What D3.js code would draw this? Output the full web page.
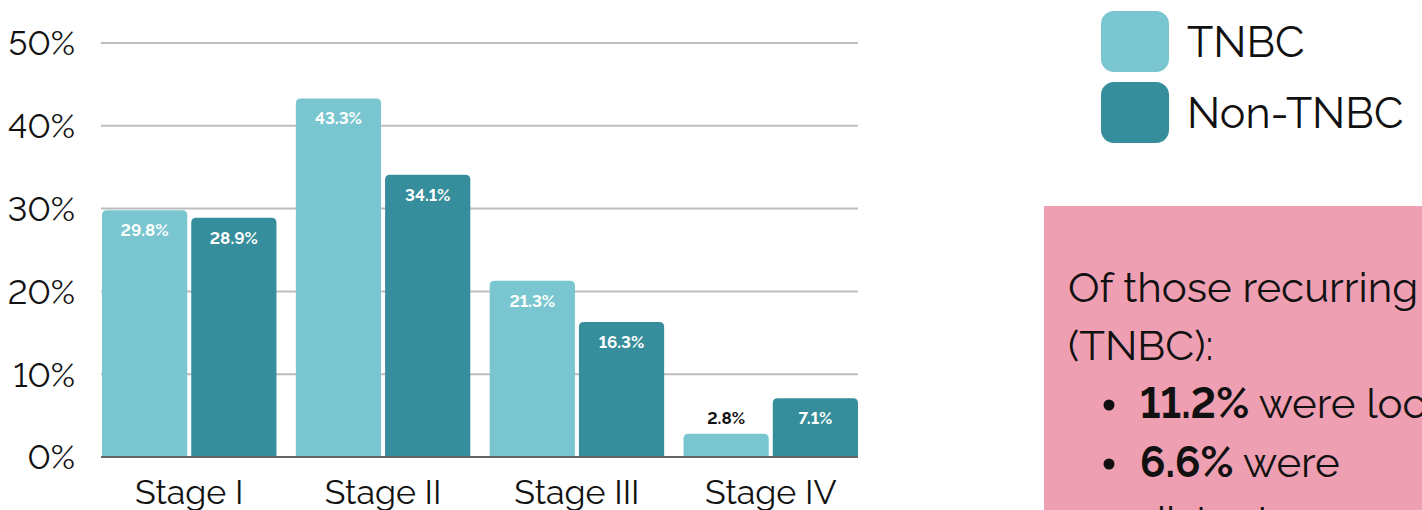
<!DOCTYPE html>
<html>
<head>
<meta charset="utf-8">
<script src="https://cdn.jsdelivr.net/npm/d3@7"></script>
<style>
  html, body { margin: 0; padding: 0; background: #fff; overflow: hidden; }
  svg { display: block; font-family: Raleway, Lato, "Open Sans", sans-serif; font-variant-numeric: lining-nums; }
</style>
</head>
<body>
<svg id="chart" width="1422" height="510"></svg>
<script>
// Stage distribution at diagnosis, by subtype
const stages = ["Stage I", "Stage II", "Stage III", "Stage IV"];
const seriesNames = ["TNBC", "Non-TNBC"];
const tnbcValues = [29.8, 43.3, 21.3, 2.8];
const nonTnbcValues = [28.9, 34.1, 16.3, 7.1];
const yTicks = [0, 10, 20, 30, 40, 50];
const colors = ["#79c6d1", "#368d9b"];

const svg = d3.select("#chart");

const x0 = d3.scaleBand().domain(stages).range([102, 858]).paddingInner(0.1).paddingOuter(0);
const x1 = d3.scaleBand().domain(seriesNames).range([0, x0.bandwidth()]).paddingInner(0.045);
const y = d3.scaleLinear().domain([0, 50]).range([457, 43]);

// gridlines
svg.append("g").selectAll("line").data(yTicks.filter(d => d > 0)).join("line")
  .attr("x1", 101).attr("x2", 858)
  .attr("y1", d => y(d)).attr("y2", d => y(d))
  .attr("stroke", "#bdbdbd").attr("stroke-width", 2);

// y axis labels
const yAxis = d3.axisLeft(y).tickValues(yTicks).tickFormat(d => d + "%").tickSize(0).tickPadding(0);
const yg = svg.append("g").attr("transform", "translate(75,0)").call(yAxis);
yg.select(".domain").remove();
yg.selectAll("text").attr("font-size", 34).attr("fill", "#111").attr("font-family", "Raleway, Lato, sans-serif")
  .attr("dy", "0.35em");

// bars with rounded top corners
const rows = stages.map((s, i) => ({ stage: s, vals: [tnbcValues[i], nonTnbcValues[i]] }));
const r = 5;
function topRounded(x, yTop, w, yBase) {
  const h = yBase - yTop;
  const rr = Math.min(r, h, w / 2);
  return `M${x},${yBase}V${yTop + rr}Q${x},${yTop} ${x + rr},${yTop}H${x + w - rr}Q${x + w},${yTop} ${x + w},${yTop + rr}V${yBase}Z`;
}
const groups = svg.append("g").selectAll("g").data(rows).join("g")
  .attr("transform", d => `translate(${x0(d.stage)},0)`);

groups.selectAll("path").data(d => d.vals.map((v, j) => ({ v, name: seriesNames[j], j }))).join("path")
  .attr("d", d => topRounded(x1(d.name), y(d.v), x1.bandwidth(), y(0)))
  .attr("fill", d => colors[d.j]);

// value labels: inside the bar, or above it when the bar is short
groups.selectAll("text").data(d => d.vals.map((v, j) => ({ v, name: seriesNames[j], j }))).join("text")
  .attr("x", d => x1(d.name) + x1.bandwidth() / 2)
  .attr("y", d => d.v < 5 ? y(d.v) - 10 : y(d.v) + 26)
  .attr("text-anchor", "middle")
  .attr("font-size", 17).attr("font-weight", 700)
  .attr("fill", d => d.v < 5 ? "#111" : "#fff")
  .text(d => d.v.toFixed(1) + "%");

// baseline
svg.append("line").attr("x1", 101).attr("x2", 858).attr("y1", y(0)).attr("y2", y(0))
  .attr("stroke", "#666").attr("stroke-width", 2);

// x axis labels
const xAxis = d3.axisBottom(x0).tickSize(0).tickPadding(0);
const xg = svg.append("g").attr("transform", "translate(0,480)").call(xAxis);
xg.select(".domain").remove();
xg.selectAll("text").attr("font-size", 34).attr("fill", "#111").attr("font-family", "Raleway, Lato, sans-serif")
  .attr("dy", "0.71em");

// legend
const legend = svg.append("g").selectAll("g").data(seriesNames).join("g")
  .attr("transform", (d, i) => `translate(1101,${11 + i * 71})`);
legend.append("rect").attr("width", 68).attr("height", 61).attr("rx", 13)
  .attr("fill", (d, i) => colors[i]);
legend.append("text").attr("x", 86).attr("y", 46).attr("font-size", 43).attr("fill", "#111").text(d => d);

// note panel
svg.append("rect").attr("x", 1044).attr("y", 206).attr("width", 400).attr("height", 320).attr("fill", "#ee9fb2");
const note = svg.append("text").attr("font-size", 42).attr("fill", "#111");
note.append("tspan").attr("x", 1068).attr("y", 302).text("Of those recurring cancers");
note.append("tspan").attr("x", 1068).attr("y", 360).text("(TNBC):");
const bullets = [["11.2%", " were local"], ["6.6%", " were"]];
bullets.forEach((b, i) => {
  const yy = 418 + i * 59;
  svg.append("circle").attr("cx", 1109).attr("cy", yy - 13).attr("r", 5.5).attr("fill", "#111");
  const t = svg.append("text").attr("x", 1140).attr("y", yy).attr("font-size", 42).attr("fill", "#111");
  t.append("tspan").attr("font-weight", 700).text(b[0]);
  t.append("tspan").text(b[1]);
});
svg.append("text").attr("x", 1140).attr("y", 536).attr("font-size", 42).attr("fill", "#111").text("distant");
</script>
</body>
</html>
